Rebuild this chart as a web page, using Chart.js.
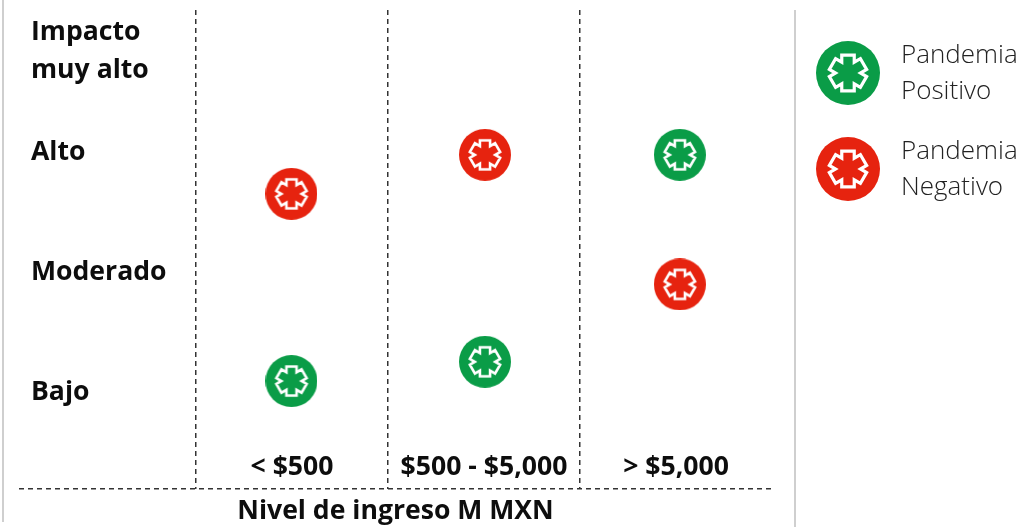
<!DOCTYPE html>
<html lang="es">
<head>
<meta charset="utf-8">
<title>Impacto de la pandemia por nivel de ingreso</title>
<script src="https://cdn.jsdelivr.net/npm/chart.js@4/dist/chart.umd.min.js"></script>
<style>
  html, body { margin: 0; padding: 0; background: #fff; }
  #wrap { position: relative; width: 1031px; height: 527px; overflow: hidden; font-family: "Open Sans", sans-serif; }
  #chart { position: absolute; left: 0; top: 0; }
  .rule { position: absolute; width: 2px; background: #cfcfcf; }
  .key { position: absolute; left: 816px; display: flex; align-items: center; }
  .key span { position: relative; top: -2px; margin-left: 21px; font-size: 26px; font-weight: 300; line-height: 36px; color: #222; }
</style>
</head>
<body>
<div id="wrap">
  <canvas id="chart" width="1031" height="527"></canvas>
  <div class="rule" style="left:2px;top:0;height:522px"></div>
  <div class="rule" style="left:794px;top:10px;height:517px"></div>
  <div id="legend"></div>
</div>
<script>
// data
const incomeLabels = ['< $500', '$500 - $5,000', '> $5,000'];
const incomeTicks = [0.5, 1.5, 2.5];
const incomeDividers = [0, 1, 2];
const impactLabels = ['Bajo', 'Moderado', 'Alto', ['Impacto', 'muy alto']];
const impactTicks = [0.978, 1.978, 2.978, 3.82];

const positiveX = [0.497, 1.505, 2.52];
const positiveY = [1.075, 1.235, 2.96];
const negativeX = [0.497, 1.505, 2.52];
const negativeY = [2.635, 2.96, 1.88];

const seriesNames = [['Pandemia', 'Positivo'], ['Pandemia', 'Negativo']];

const GREEN = '#0a9c47';
const RED = '#e6230f';
const INK = '#0d0d0d';
const DASH = [5, 4];

// round badge with the outlined six arm star, used as point style
function badge(color, d) {
  const c = document.createElement('canvas');
  c.width = d;
  c.height = d;
  const ctx = c.getContext('2d');
  const R = d / 2;
  ctx.fillStyle = color;
  ctx.beginPath();
  ctx.arc(R, R, R, 0, Math.PI * 2);
  ctx.fill();

  const L = R * 0.56, w = R * 0.39;
  ctx.translate(R, R);
  ctx.beginPath();
  for (let k = 0; k < 6; k++) {
    const a = k * Math.PI / 3;
    const ux = Math.sin(a), uy = -Math.cos(a);
    const px = Math.cos(a), py = Math.sin(a);
    ctx.lineTo(ux * L - px * w / 2, uy * L - py * w / 2);
    ctx.lineTo(ux * L + px * w / 2, uy * L + py * w / 2);
    const b = a + Math.PI / 6;
    ctx.lineTo(Math.sin(b) * w, -Math.cos(b) * w);
  }
  ctx.closePath();
  ctx.strokeStyle = '#fff';
  ctx.lineWidth = d / 20;
  ctx.lineJoin = 'miter';
  ctx.stroke();
  return c;
}

function toPoints(xs, ys) {
  return xs.map((x, i) => ({ x: x, y: ys[i] }));
}

// labels sit inside the plot, so the axes must not ask for extra room
function noPadding(axis) {
  axis.paddingLeft = axis.paddingRight = axis.paddingTop = axis.paddingBottom = 0;
}

const boldFont = { family: '"Open Sans", sans-serif', size: 26.6, weight: 'bold' };

new Chart(document.getElementById('chart'), {
  type: 'scatter',
  data: {
    datasets: [
      { label: 'Pandemia Positivo', data: toPoints(positiveX, positiveY), xAxisID: 'x', yAxisID: 'y', pointStyle: badge(GREEN, 52), clip: false },
      { label: 'Pandemia Negativo', data: toPoints(negativeX, negativeY), xAxisID: 'x', yAxisID: 'y', pointStyle: badge(RED, 52), clip: false }
    ]
  },
  options: {
    responsive: false,
    animation: false,
    events: [],
    layout: { padding: { left: 19, right: 259, top: 10, bottom: 0 } },
    plugins: { legend: { display: false }, tooltip: { enabled: false } },
    scales: {
      x: {
        type: 'linear',
        min: -0.922,
        max: 3,
        grid: { display: false },
        border: { display: false },
        title: { display: true, text: 'Nivel de ingreso M MXN', color: INK, font: boldFont, padding: { top: 2, bottom: 0 } },
        afterBuildTicks: axis => { axis.ticks = incomeTicks.map(v => ({ value: v })); },
        afterFit: axis => { noPadding(axis); axis.height = 38; },
        ticks: {
          mirror: true,
          padding: 6,
          color: INK,
          font: boldFont,
          maxRotation: 0,
          autoSkip: false,
          callback: (v, i) => incomeLabels[i]
        }
      },
      // only carries the dashed column dividers
      dividers: {
        type: 'linear',
        position: 'top',
        min: -0.922,
        max: 3,
        border: { display: false, dash: DASH },
        grid: { color: '#333', lineWidth: 1.5, drawTicks: false },
        afterBuildTicks: axis => { axis.ticks = incomeDividers.map(v => ({ value: v })); },
        afterFit: noPadding,
        ticks: { display: false }
      },
      // only carries the dashed line above the axis title
      floor: {
        type: 'linear',
        position: 'right',
        min: 0,
        max: 1,
        border: { display: false, dash: DASH },
        grid: { color: '#333', lineWidth: 1.5, drawTicks: false },
        afterBuildTicks: axis => { axis.ticks = [{ value: 0 }]; },
        afterFit: noPadding,
        ticks: { display: false }
      },
      y: {
        type: 'linear',
        min: 0.175,
        max: 4.167,
        grid: { display: false },
        border: { display: false },
        afterBuildTicks: axis => { axis.ticks = impactTicks.map(v => ({ value: v })); },
        afterFit: axis => { noPadding(axis); axis.width = 0; },
        ticks: {
          mirror: true,
          padding: 12,
          color: INK,
          font: { ...boldFont, lineHeight: 1.43 },
          autoSkip: false,
          callback: (v, i) => impactLabels[i]
        }
      }
    }
  }
});

// legend on the right
const legendEl = document.getElementById('legend');
[GREEN, RED].forEach((color, i) => {
  const row = document.createElement('div');
  row.className = 'key';
  row.style.top = (i === 0 ? 37 : 133) + 'px';
  row.appendChild(badge(color, 64));
  const text = document.createElement('span');
  text.innerHTML = seriesNames[i].join('<br>');
  row.appendChild(text);
  legendEl.appendChild(row);
});
</script>
</body>
</html>
